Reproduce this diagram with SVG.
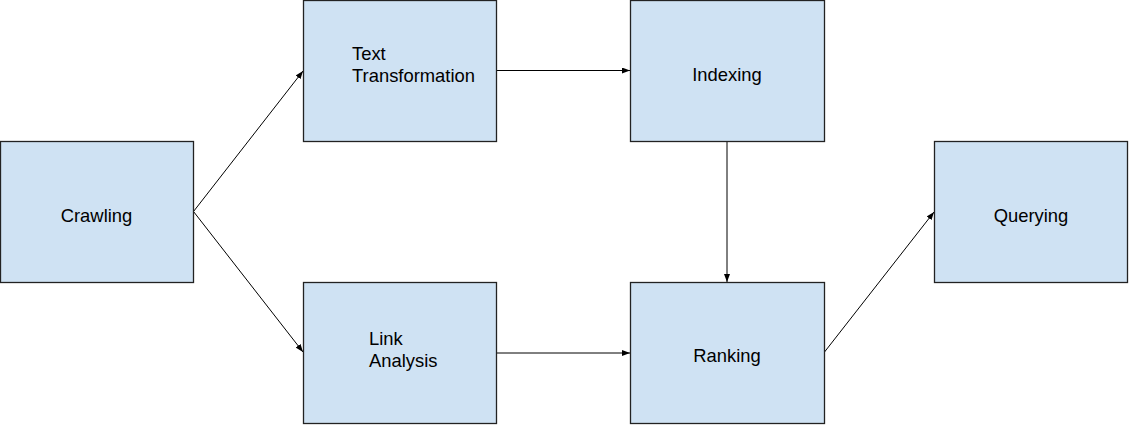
<svg xmlns="http://www.w3.org/2000/svg" width="1131" height="428" viewBox="0 0 1131 428">
<style>
.box{fill:#cfe2f3;stroke:#222;stroke-width:1.3}
.lbl{font-family:"Liberation Sans",Arial,sans-serif;font-size:18.4px;fill:#000}
.edge{stroke:#000;stroke-width:1;fill:none;marker-end:url(#ah)}
</style>
<defs>
<marker id="ah" viewBox="0 0 8 6" refX="8" refY="3" markerWidth="8" markerHeight="6" markerUnits="userSpaceOnUse" orient="auto">
<path d="M0,0 L8,3 L0,6 Z" fill="#000"/>
</marker>
</defs>
<rect width="1131" height="428" fill="#fff"/>
<g id="connectors">
<line class="edge" x1="193.5" y1="211.5" x2="303" y2="71"/>
<line class="edge" x1="193.5" y1="211.5" x2="303" y2="352"/>
<line class="edge" x1="496.5" y1="70.5" x2="630" y2="70.5"/>
<line class="edge" x1="727" y1="141.5" x2="727" y2="282"/>
<line class="edge" x1="496.5" y1="353" x2="630" y2="353"/>
<line class="edge" x1="824.5" y1="352" x2="934" y2="212"/>
</g>
<g id="crawling">
<rect class="box" x="0.5" y="141.5" width="193" height="141"/>
<text class="lbl" x="96.5" y="221.5" text-anchor="middle">Crawling</text>
</g>
<g id="text-transformation">
<rect class="box" x="303.5" y="0.5" width="193" height="141"/>
<text class="lbl" x="352" y="60">Text</text>
<text class="lbl" x="352" y="82">Transformation</text>
</g>
<g id="indexing">
<rect class="box" x="630.5" y="0.5" width="194" height="141"/>
<text class="lbl" x="727" y="80.5" text-anchor="middle">Indexing</text>
</g>
<g id="link-analysis">
<rect class="box" x="303.5" y="282.5" width="193" height="141"/>
<text class="lbl" x="369" y="345">Link</text>
<text class="lbl" x="369" y="366.5">Analysis</text>
</g>
<g id="ranking">
<rect class="box" x="630.5" y="282.5" width="194" height="141"/>
<text class="lbl" x="727" y="362" text-anchor="middle">Ranking</text>
</g>
<g id="querying">
<rect class="box" x="934.5" y="141.5" width="193" height="141"/>
<text class="lbl" x="1031" y="221.5" text-anchor="middle">Querying</text>
</g>
</svg>
